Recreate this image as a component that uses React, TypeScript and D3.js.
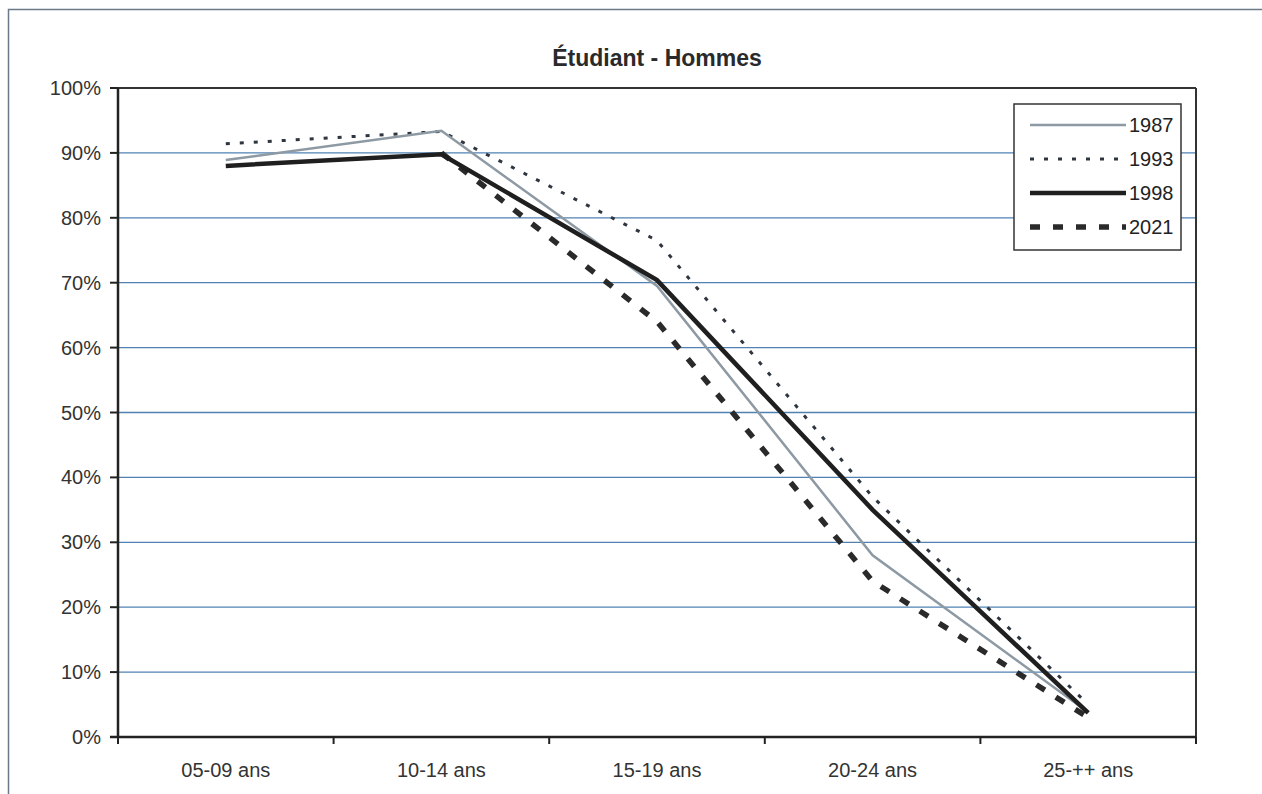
import React from "react";
import * as d3 from "d3";

const categories = ["05-09 ans", "10-14 ans", "15-19 ans", "20-24 ans", "25-++ ans"];
const series1987: (number | null)[] = [88.9, 93.4, 69.5, 28, 3.8];
const series1993: (number | null)[] = [91.4, 93.3, 76.5, 37, 5];
const series1998: (number | null)[] = [88, 89.8, 70.4, 35, 3.7];
const series2021: (number | null)[] = [null, 90, 64, 24, 3];
const yTicks = [0, 10, 20, 30, 40, 50, 60, 70, 80, 90, 100];
const title = "Étudiant - Hommes";

const seriesList = [
  { name: "1987", values: series1987, color: "#8d99a3", width: 2.5, dash: "" },
  { name: "1993", values: series1993, color: "#2f3640", width: 3, dash: "4,10" },
  { name: "1998", values: series1998, color: "#1f1f1f", width: 4.5, dash: "" },
  { name: "2021", values: series2021, color: "#2a2a2a", width: 5.5, dash: "10,13" },
];

export default function App() {
  const W = 1262, H = 794;
  const left = 118, right = 1196, top = 88, bottom = 737;
  const x = d3.scaleBand<string>().domain(categories).range([left, right]);
  const y = d3.scaleLinear().domain([0, 100]).range([bottom, top]);
  const line = d3.line<number | null>()
    .defined((d) => d !== null)
    .x((_, i) => (x(categories[i]) as number) + x.bandwidth() / 2)
    .y((d) => y(d as number));
  const font = "Arial, 'Liberation Sans', sans-serif";
  const legendX = 1014, legendY = 104, legendW = 167, legendH = 146;
  const order = [0, 1, 2, 3];
  const drawOrder = [3, 1, 0, 2];
  return (
    <svg width={W} height={H} style={{ position: "absolute", left: 0, top: 0, background: "#fff" }}>
      <rect x={8.5} y={9.5} width={1300} height={900} fill="#fff" stroke="#6a7a8a" strokeWidth={1.5} />
      <text x={657} y={66} textAnchor="middle" fontFamily={font} fontWeight="bold" fontSize={23} fill="#2a2a2a">{title}</text>
      {yTicks.map((t) => (
        <g key={t}>
          {t > 0 && t < 100 && (
            <line x1={left} x2={right} y1={y(t)} y2={y(t)} stroke="#4f82b3" strokeWidth={1.3} />
          )}
          <line x1={left - 8} x2={left} y1={y(t)} y2={y(t)} stroke="#222" strokeWidth={2} />
          <text x={101} y={y(t) + 7} textAnchor="end" fontFamily={font} fontSize={20} fill="#333">{t}%</text>
        </g>
      ))}
      <line x1={left} x2={right} y1={top} y2={top} stroke="#333" strokeWidth={2} />
      <line x1={right} x2={right} y1={top} y2={bottom} stroke="#333" strokeWidth={2} />
      <line x1={left} x2={left} y1={top} y2={bottom} stroke="#222" strokeWidth={2.5} />
      <line x1={left - 8} x2={right} y1={bottom} y2={bottom} stroke="#222" strokeWidth={2.5} />
      {categories.map((c) => (
        <g key={c}>
          <line x1={x(c) as number} x2={x(c) as number} y1={bottom} y2={bottom + 7} stroke="#222" strokeWidth={2} />
          <text x={(x(c) as number) + x.bandwidth() / 2} y={777} textAnchor="middle" fontFamily={font} fontSize={20} fill="#333">{c}</text>
        </g>
      ))}
      <line x1={right} x2={right} y1={bottom} y2={bottom + 7} stroke="#222" strokeWidth={2} />
      {drawOrder.map((k) => {
        const s = seriesList[k];
        return (
          <path key={s.name} d={line(s.values) || ""} fill="none" stroke={s.color} strokeWidth={s.width}
            strokeDasharray={s.dash || undefined} strokeLinejoin="miter" />
        );
      })}
      <rect x={legendX} y={legendY} width={legendW} height={legendH} fill="#fff" stroke="#333" strokeWidth={1.5} />
      {order.map((k, i) => {
        const s = seriesList[k];
        const ly = legendY + 21 + i * 34;
        return (
          <g key={s.name}>
            <line x1={legendX + 16} x2={legendX + 112} y1={ly} y2={ly} stroke={s.color} strokeWidth={s.width}
              strokeDasharray={s.dash || undefined} />
            <text x={legendX + 115} y={ly + 7} fontFamily={font} fontSize={20} fill="#222">{s.name}</text>
          </g>
        );
      })}
    </svg>
  );
}
